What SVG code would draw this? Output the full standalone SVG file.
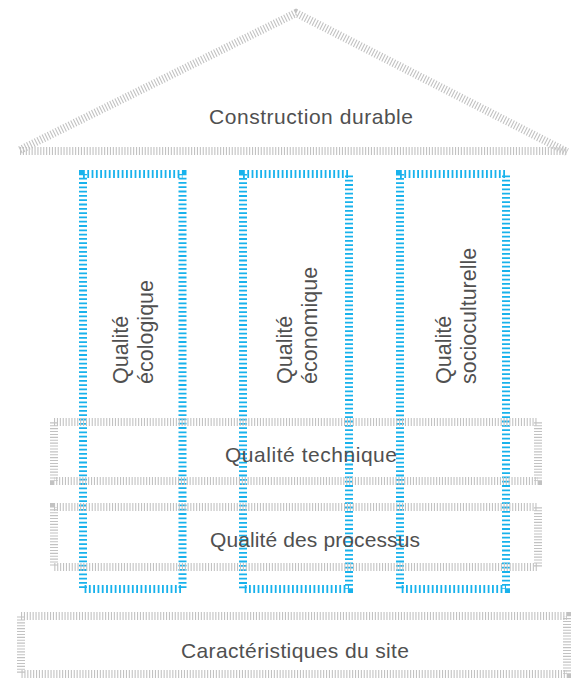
<svg xmlns="http://www.w3.org/2000/svg" width="571" height="678" viewBox="0 0 571 678">
  <style>
    .grey { fill: none; stroke: #c2c2c2; stroke-width: 8; stroke-dasharray: 1.1 1.8; }
    .blue { fill: none; stroke: #18b2ec; stroke-width: 8; stroke-dasharray: 1.8 2.5; }
    .lbl { font-family: "Liberation Sans", Arial, sans-serif; font-size: 21px; fill: #505050; }
    .vlbl { font-family: "Liberation Sans", Arial, sans-serif; font-size: 21.5px; fill: #505050; }
  </style>

  <rect width="571" height="678" fill="#ffffff"/>

  <!-- Roof -->
  <g id="roof">
    <polyline class="grey" points="20,150 296,13 567,152"/>
    <line class="grey" x1="20" y1="151" x2="568" y2="151"/>
    <text class="lbl" x="311" y="124" text-anchor="middle" textLength="204">Construction durable</text>
  </g>

  <!-- Pillars -->
  <g id="pillar-ecologique">
    <rect class="blue" x="83" y="174" width="99.5" height="415"/>
    <text class="vlbl" transform="translate(128,384) rotate(-90)">Qualité</text>
    <text class="vlbl" transform="translate(153,384) rotate(-90)">écologique</text>
  </g>
  <g id="pillar-economique">
    <rect class="blue" x="243" y="174" width="106" height="415"/>
    <text class="vlbl" transform="translate(292,384) rotate(-90)">Qualité</text>
    <text class="vlbl" transform="translate(317,384) rotate(-90)">économique</text>
  </g>
  <g id="pillar-socioculturelle">
    <rect class="blue" x="400" y="174" width="106" height="415"/>
    <text class="vlbl" transform="translate(451,384) rotate(-90)">Qualité</text>
    <text class="vlbl" transform="translate(476,384) rotate(-90)">socioculturelle</text>
  </g>

  <!-- Horizontal layers -->
  <g id="layer-technique">
    <rect class="grey" x="54" y="422" width="484" height="59"/>
    <text class="lbl" x="311" y="462" text-anchor="middle" textLength="172">Qualité technique</text>
  </g>
  <g id="layer-processus">
    <rect class="grey" x="54" y="507" width="484" height="60"/>
    <text class="lbl" x="315" y="547" text-anchor="middle" textLength="210">Qualité des processus</text>
  </g>
  <g id="site">
    <rect class="grey" x="21" y="616" width="546" height="58"/>
    <text class="lbl" x="295" y="658" text-anchor="middle" textLength="228">Caractéristiques du site</text>
  </g>
</svg>
